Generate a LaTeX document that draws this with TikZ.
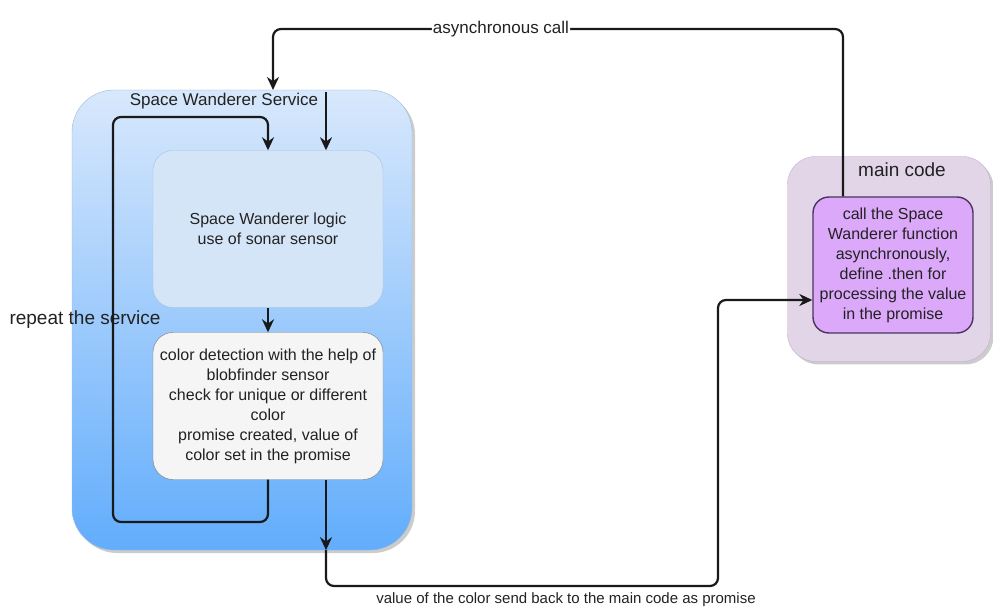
\documentclass[tikz,border=0pt]{standalone}
\usepackage{fontspec}
\setmainfont{Liberation Sans}
\usetikzlibrary{arrows.meta,shadows}

\definecolor{cSrvTop}{HTML}{D8E8FC}
\definecolor{cSrvBot}{HTML}{62ADFC}
\definecolor{cSrvLine}{HTML}{9DB8DA}
\definecolor{cLogicFill}{HTML}{D5E5F8}
\definecolor{cLogicLine}{HTML}{A9C1DE}
\definecolor{cColFill}{HTML}{F5F5F5}
\definecolor{cColLine}{HTML}{7A7A7A}
\definecolor{cMainFill}{HTML}{E1D5E7}
\definecolor{cMainLine}{HTML}{C2AECF}
\definecolor{cCallFill}{HTML}{DCA9FA}
\definecolor{cCallLine}{HTML}{4A3360}
\definecolor{cTxt}{HTML}{222222}

\tikzset{
  box/.style={draw, rounded corners=20pt, align=center, inner sep=0pt,
    text=cTxt, font=\fontsize{16}{20}\selectfont},
  flow/.style={line width=2.2pt, rounded corners=8pt, draw=black!90,
    -{Stealth[length=13pt,width=12pt]}},
  shade/.style={drop shadow={shadow xshift=3pt, shadow yshift=-3pt,
    fill=black!40, opacity=0.5}},
}

\begin{document}
\begin{tikzpicture}[x=1pt,y=-1pt]
\useasboundingbox (0,0) rectangle (993,609);

% the service
\node[shade, draw=cSrvLine, rounded corners=42pt, top color=cSrvTop,
  bottom color=cSrvBot, minimum width=340pt, minimum height=460pt]
  (service) at (242,320) {};
\node[text=cTxt, font=\fontsize{17}{20}\selectfont] (servicetitle)
  at (224,101) {Space Wanderer Service};

\node[box, draw=cLogicLine, fill=cLogicFill, minimum width=230pt,
  minimum height=157pt] (logic) at (268,229)
  {Space Wanderer logic\\use of sonar sensor};
\node[box, draw=cColLine, fill=cColFill, minimum width=230pt,
  minimum height=147pt] (colour) at (268,406)
  {color detection with the help of\\blobfinder sensor\\check for unique or different\\color\\promise created, value of\\color set in the promise};

% the main code
\node[shade, draw=cMainLine, fill=cMainFill, rounded corners=28pt,
  minimum width=203pt, minimum height=205pt] (maincode) at (889,259) {};
\node[text=cTxt, font=\fontsize{19}{22}\selectfont] (maintitle)
  at (902,170) {main code};
\node[box, draw=cCallLine, fill=cCallFill, line width=1.4pt,
  rounded corners=16pt, minimum width=160pt, minimum height=136pt]
  (mainbox) at (893,265)
  {call the Space\\Wanderer function\\asynchronously,\\define .then for\\processing the value\\in the promise};

\node[anchor=west, text=cTxt, font=\fontsize{19}{22}\selectfont]
  (repeat) at (6,320) {repeat the service};

\coordinate (cCallX) at (843,29);
\coordinate (cSrvIn) at (273,90);
\coordinate (cEntry) at (326,92);
\coordinate (cLoopBL) at (113,522);
\coordinate (cLoopTL) at (113,117);
\coordinate (cExitX) at (326,0);
\coordinate (cBack) at (718,586);

% connectors
\draw[flow] (mainbox.north -| cCallX) -- (cCallX)
  -- node[pos=0.6, fill=white, inner sep=1pt, text=cTxt,
  font=\fontsize{17}{20}\selectfont] (asynclabel) {asynchronous call}
  (cCallX -| cSrvIn) -- (cSrvIn);
\draw[flow] (cEntry) -- (cEntry |- logic.north);
\draw[flow] (logic) -- (colour);
\draw[flow] (colour.south) |- (cLoopBL) -- (cLoopTL) -| (logic.north);
\draw[flow] (colour.south -| cExitX) -- (service.south -| cExitX);
\draw[flow] (service.south -| cExitX) |- (cBack)
  |- ([yshift=-35pt]mainbox.west);

\node[text=cTxt, font=\fontsize{15}{18}\selectfont] (backlabel)
  at (566,600) {value of the color send back to the main code as promise};

\end{tikzpicture}
\end{document}
